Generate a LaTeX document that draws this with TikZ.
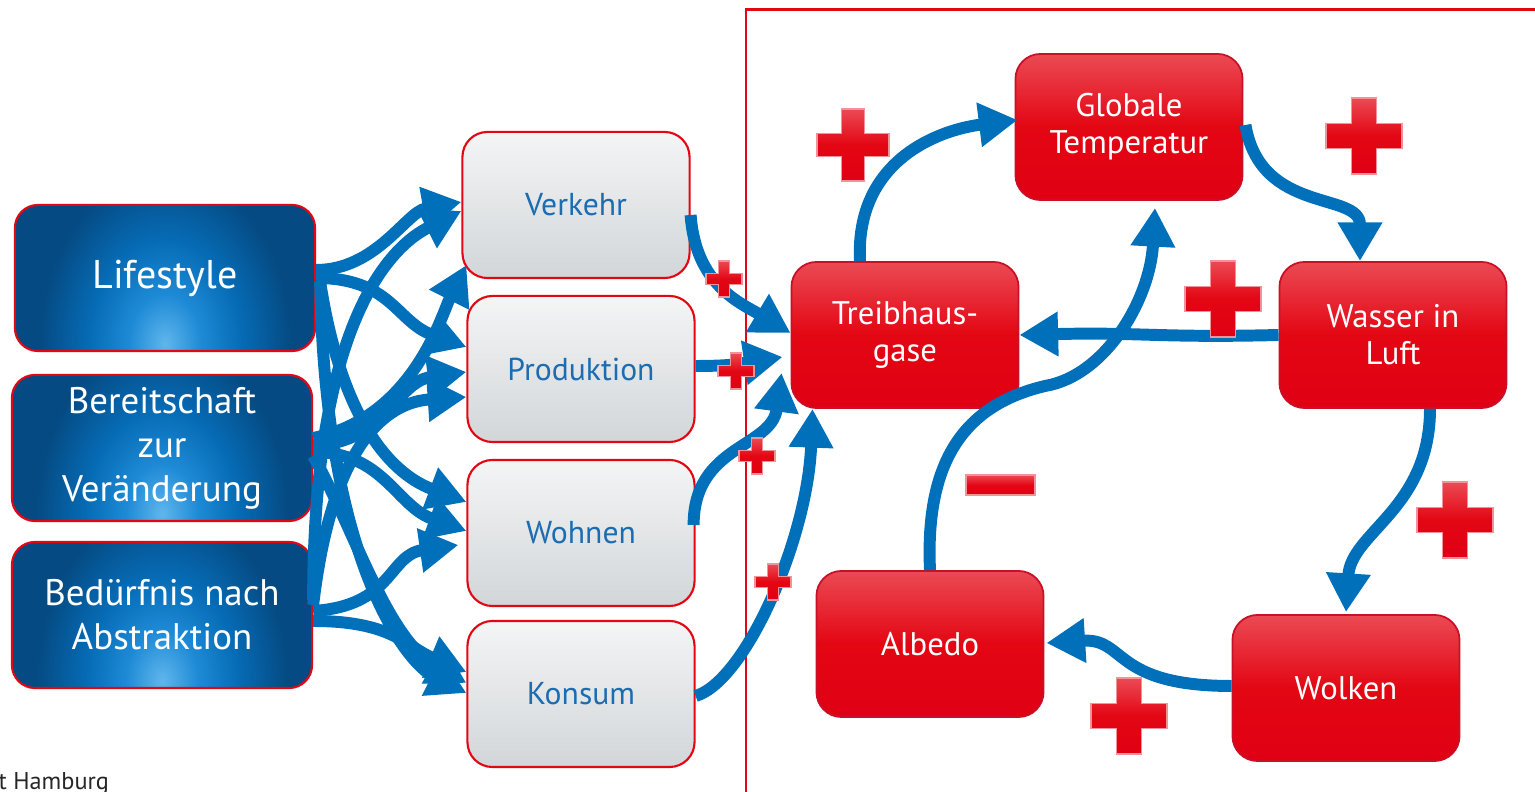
\documentclass[tikz,border=0pt]{standalone}
\usepackage{fontspec}
\setmainfont{PT Sans}
\usepackage{tikz}
\usetikzlibrary{arrows.meta, calc}
\definecolor{cArrow}{RGB}{0,112,186}
\definecolor{cRed}{RGB}{227,6,19}
\definecolor{cRedTop}{RGB}{235,74,84}
\definecolor{cRedBot}{RGB}{224,0,20}
\definecolor{cRedLine}{RGB}{200,16,40}
\definecolor{cGrayTop}{RGB}{244,245,245}
\definecolor{cGrayBot}{RGB}{210,214,217}
\definecolor{cTextBlue}{RGB}{28,108,178}
\definecolor{cBlueGlow}{RGB}{96,182,236}
\definecolor{cBlueLight}{RGB}{30,138,214}
\definecolor{cBlueMid}{RGB}{6,108,182}
\definecolor{cBlueDark}{RGB}{5,74,130}
\pgfdeclareradialshading{blueglow}{\pgfpoint{0bp}{0bp}}{color(0bp)=(cBlueGlow); color(6bp)=(cBlueLight); color(12.5bp)=(cBlueMid); color(21bp)=(cBlueDark); color(50bp)=(cBlueDark)}
\tikzset{
	srcbox/.style ={rectangle, rounded corners=0.23cm, draw=cRed, line width=0.6pt, fill=cBlueDark, minimum width=3cm, minimum height=1.46cm, align=center, text=white, font=\fontsize{10.5}{12.5}\selectfont,
		path picture={\shade[shading=blueglow] ($(path picture bounding box.center)+(0,66)$) ellipse[x radius=1.5cm, y radius=2.06cm];}},
	areabox/.style={rectangle, rounded corners=0.25cm, draw=cRed, line width=0.6pt, minimum width=2.27cm, minimum height=1.46cm, align=center, text=cTextBlue, top color=cGrayTop, bottom color=cGrayBot, font=\fontsize{9}{10.5}\selectfont},
	climbox/.style={rectangle, rounded corners=0.25cm, draw=cRedLine, line width=0.5pt, minimum width=2.27cm, minimum height=1.46cm, align=center, text=white, top color=cRedTop, bottom color=cRedBot, middle color=cRed, font=\fontsize{9.3}{10.5}\selectfont},
	flow/.style   ={draw=cArrow, line width=3.4pt, -{Triangle[length=11pt,width=12pt]}},
	% feedback signs
	plusmark/.pic ={\path[top color=cRedTop, bottom color=cRedBot, middle color=cRed, draw=cRedTop!60!white, line width=0.3pt]
		(-1,-0.33) -- (-0.33,-0.33) -- (-0.33,-1) -- (0.33,-1) -- (0.33,-0.33) -- (1,-0.33) -- (1,0.33) -- (0.33,0.33) -- (0.33,1) -- (-0.33,1) -- (-0.33,0.33) -- (-1,0.33) -- cycle;},
}
\begin{document}
\begin{tikzpicture}[x=0.01cm, y=-0.01cm]
	\useasboundingbox (0,0) rectangle (1535,792);
	\clip (0,0) rectangle (1535,792);
	\draw[cRed, line width=0.6pt] (746,800) -- (746,9.5) -- (1545,9.5);

	% drivers
	\node[srcbox, font=\fontsize{11.4}{13}\selectfont] (lif) at (165,278) {Lifestyle};
	\node[srcbox] (ber) at (162,448) {Bereitschaft\\zur\\Veränderung};
	\node[srcbox] (bed) at (162,615) {Bedürfnis nach\\Abstraktion};
	% sectors
	\node[areabox] (verk) at (576,205) {Verkehr};
	\node[areabox] (prod) at (581,369) {Produktion};
	\node[areabox] (wohn) at (581,533) {Wohnen};
	\node[areabox] (kons) at (581,694) {Konsum};
	% climate system
	\node[climbox] (glob) at (1129,127) {Globale\\Temperatur};
	\node[climbox] (treib) at (905,335) {Treibhaus-\\gase};
	\node[climbox] (wass) at (1393,335) {Wasser in\\Luft};
	\node[climbox] (albe) at (930,644) {Albedo};
	\node[climbox] (wolk) at (1346,688) {Wolken};

	% drivers -> sectors
	\draw[flow] ($(lif.east)+(0,-8)$) .. controls +(60,0) and +(-55,10) .. ($(verk.west)+(0,-3)$);
	\draw[flow] (lif.east) .. controls +(75,0) and +(-70,-25) .. ($(prod.west)+(0,-22)$);
	\draw[flow] ($(lif.east)+(4,4)$) .. controls +(20,130) and +(-80,-30) .. ($(wohn.west)+(0,-31)$);
	\draw[flow] ($(lif.east)+(4,4)$) .. controls +(5,280) and +(-60,-30) .. ($(kons.west)+(0,-1)$);
	\draw[flow] ($(ber.east)+(0,-10)$) .. controls +(100,-20) and +(-25,50) .. ($(verk.south west)+(5,-14)$);
	\draw[flow] ($(ber.east)+(0,-3)$) .. controls +(70,0) and +(-70,10) .. ($(prod.west)+(0,3)$);
	\draw[flow] ($(ber.east)+(0,4)$) .. controls +(70,0) and +(-70,-25) .. ($(wohn.west)+(0,-2)$);
	\draw[flow] ($(ber.east)+(0,8)$) .. controls +(40,70) and +(-80,-45) .. ($(kons.west)+(0,-11)$);
	\draw[flow] ($(bed.east)+(0,-15)$) .. controls +(0,-260) and +(-80,40) .. ($(verk.west)+(0,6)$);
	\draw[flow] ($(bed.east)+(0,-10)$) .. controls +(20,-170) and +(-75,5) .. ($(prod.west)+(0,28)$);
	\draw[flow] ($(bed.east)+(0,-4)$) .. controls +(80,-5) and +(-70,10) .. ($(wohn.west)+(-8,12)$);
	\draw[flow] ($(bed.east)+(0,6)$) .. controls +(80,0) and +(-60,-25) .. ($(kons.west)+(0,-22)$);

	% sectors -> greenhouse gases
	\draw[flow] ($(verk.east)+(0,10)$) .. controls +(5,70) and +(-50,-30) .. ($(treib.west)+(0,-2)$);
	\draw[flow] ($(prod.east)+(0,-3)$) .. controls +(40,0) and +(-40,6) .. ($(treib.west)+(-8,22)$);
	\draw[flow] ($(wohn.east)+(-2,-8)$) .. controls +(0,-80) and +(-10,75) .. ($(treib.west)+(-9,38)$);
	\draw[flow] ($(kons.east)+(0,2)$) .. controls +(50,-15) and +(-5,130) .. ($(treib.south west)+(22,0)$);

	% feedback loop
	\draw[flow] ($(treib.north)+(-45,0)$) .. controls +(-5,-100) and +(-80,10) .. ($(glob.west)+(3,-7)$);
	\draw[flow] ($(glob.east)+(2,-2)$) .. controls +(15,90) and +(0,-70) .. ($(wass.north)+(-33,0)$);
	\draw[flow] (wass.west) .. controls +(-120,3) and +(120,-3) .. (treib.east);
	\draw[flow] ($(wass.south)+(37,0)$) .. controls +(0,100) and +(5,-80) .. ($(wolk.north)+(0,-2)$);
	\draw[flow] ($(wolk.west)+(0,-2)$) .. controls +(-120,0) and +(80,-5) .. ($(albe.east)+(2,-1)$);
	\draw[flow] (albe.north) .. controls (925,460) and (965,405) .. (1045,386) .. controls (1105,376) and (1150,300) .. ($(glob.south)+(26,7)$);

	% signs
	\pic[scale=18] at (724,279) {plusmark};
	\pic[scale=18] at (736,371) {plusmark};
	\pic[scale=18] at (757,456) {plusmark};
	\pic[scale=18] at (773,582) {plusmark};
	\pic[scale=36] at (853,145) {plusmark};
	\pic[scale=38] at (1364,136) {plusmark};
	\pic[scale=38] at (1223,299) {plusmark};
	\pic[scale=38] at (1455,520) {plusmark};
	\pic[scale=38] at (1129,716) {plusmark};
	\path[top color=cRedTop, bottom color=cRedBot, middle color=cRed, draw=cRedTop!60!white, line width=0.3pt] (966,475) rectangle (1035,495);

	\node[anchor=base west, inner sep=0pt, text=black!85, font=\fontsize{6.9}{8}\selectfont] (src) at (-2,790) {t Hamburg};
\end{tikzpicture}
\end{document}
